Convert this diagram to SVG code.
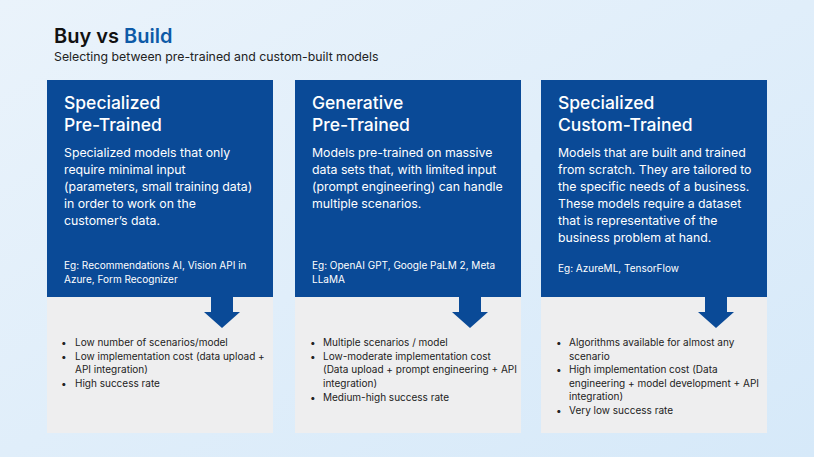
<svg xmlns="http://www.w3.org/2000/svg" width="814" height="457" viewBox="0 0 814 457">
<defs>
<linearGradient id="bg" x1="0" y1="0" x2="1" y2="1"><stop offset="0" stop-color="#eaf3fb"/><stop offset="1" stop-color="#d6e9f9"/></linearGradient>
<style>
text{font-family:Inter,"Noto Sans",sans-serif}
.top{fill:#0a4a97}
.bot{fill:#eeeeef}
.h{fill:#fff;font-size:17.5px;font-weight:500}
.p{fill:#fff;font-size:12.3px}
.e{fill:#fff;font-size:10px}
.b{fill:#222;font-size:10px}
</style>
<polygon id="arr" points="-11,0 11,0 11,15 18,15 0,31 -18,15 -11,15" class="top"/>
</defs>
<rect width="814" height="457" fill="url(#bg)"/>
<text x="54" y="43" font-size="20" font-weight="600" fill="#111">Buy vs <tspan fill="#0d5aa7">Build</tspan></text>
<text x="54" y="61" font-size="12.3" fill="#222">Selecting between pre-trained and custom-built models</text>
<g id="n1">
<rect x="47" y="80" width="226" height="217" class="top"/>
<rect x="47" y="297" width="226" height="136" class="bot"/>
<use href="#arr" x="222" y="297"/>
<text class="h"><tspan x="64" y="109">Specialized</tspan><tspan x="64" y="131">Pre-Trained</tspan></text>
<text class="p"><tspan x="64" y="157">Specialized models that only</tspan><tspan x="64" y="174">require minimal input</tspan><tspan x="64" y="191">(parameters, small training data)</tspan><tspan x="64" y="208">in order to work on the</tspan><tspan x="64" y="225">customer’s data.</tspan></text>
<text class="e"><tspan x="64" y="269">Eg: Recommendations AI, Vision API in</tspan><tspan x="64" y="283">Azure, Form Recognizer</tspan></text>
<text class="b"><tspan x="61" y="346">•</tspan><tspan x="75" y="346">Low number of scenarios/model</tspan><tspan x="61" y="360">•</tspan><tspan x="75" y="360">Low implementation cost (data upload +</tspan><tspan x="75" y="373">API integration)</tspan><tspan x="61" y="387">•</tspan><tspan x="75" y="387">High success rate</tspan></text>
</g>
<g id="n2">
<rect x="295" y="80" width="226" height="217" class="top"/>
<rect x="295" y="297" width="226" height="136" class="bot"/>
<use href="#arr" x="470" y="297"/>
<text class="h"><tspan x="312" y="109">Generative</tspan><tspan x="312" y="131">Pre-Trained</tspan></text>
<text class="p"><tspan x="312" y="157">Models pre-trained on massive</tspan><tspan x="312" y="174">data sets that, with limited input</tspan><tspan x="312" y="191">(prompt engineering) can handle</tspan><tspan x="312" y="208">multiple scenarios.</tspan></text>
<text class="e"><tspan x="312" y="269">Eg: OpenAI GPT, Google PaLM 2, Meta</tspan><tspan x="312" y="283">LLaMA</tspan></text>
<text class="b"><tspan x="310" y="346">•</tspan><tspan x="323" y="346">Multiple scenarios / model</tspan><tspan x="310" y="360">•</tspan><tspan x="323" y="360">Low-moderate implementation cost</tspan><tspan x="323" y="373">(Data upload + prompt engineering + API</tspan><tspan x="323" y="387">integration)</tspan><tspan x="310" y="401">•</tspan><tspan x="323" y="401">Medium-high success rate</tspan></text>
</g>
<g id="n3">
<rect x="541" y="80" width="226" height="217" class="top"/>
<rect x="541" y="297" width="226" height="136" class="bot"/>
<use href="#arr" x="716" y="297"/>
<text class="h"><tspan x="558" y="109">Specialized</tspan><tspan x="558" y="131">Custom-Trained</tspan></text>
<text class="p"><tspan x="558" y="157">Models that are built and trained</tspan><tspan x="558" y="174">from scratch. They are tailored to</tspan><tspan x="558" y="191">the specific needs of a business.</tspan><tspan x="558" y="208">These models require a dataset</tspan><tspan x="558" y="225">that is representative of the</tspan><tspan x="558" y="242">business problem at hand.</tspan></text>
<text class="e"><tspan x="558" y="272">Eg: AzureML, TensorFlow</tspan></text>
<text class="b"><tspan x="556" y="346">•</tspan><tspan x="569" y="346">Algorithms available for almost any</tspan><tspan x="569" y="360">scenario</tspan><tspan x="556" y="373">•</tspan><tspan x="569" y="373">High implementation cost (Data</tspan><tspan x="569" y="387">engineering + model development + API</tspan><tspan x="569" y="400">integration)</tspan><tspan x="556" y="414">•</tspan><tspan x="569" y="414">Very low success rate</tspan></text>
</g>
<g id="connectors"></g>
</svg>
